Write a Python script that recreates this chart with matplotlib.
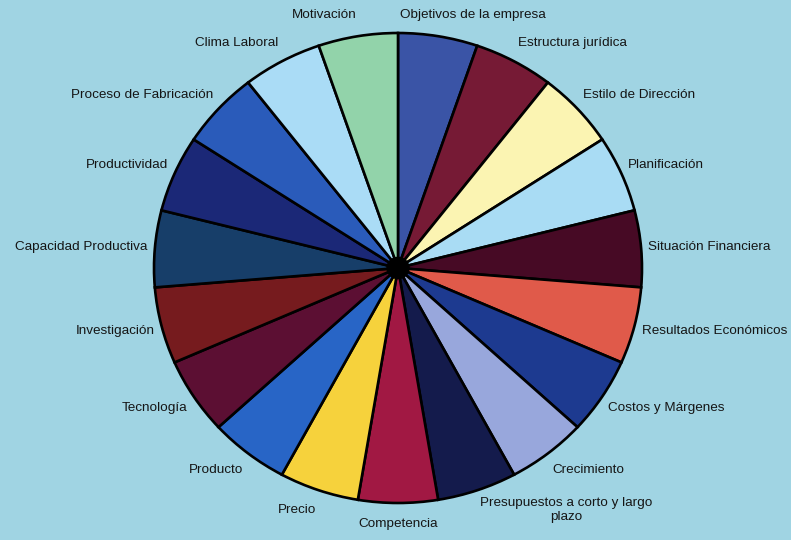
import matplotlib
matplotlib.use("Agg")
import matplotlib.pyplot as plt
from matplotlib.patches import Circle

# ── Data ──────────────────────────────────────────────────────────────
labels = [
    "Objetivos de la empresa", "Estructura jurídica", "Estilo de Dirección",
    "Planificación", "Situación Financiera", "Resultados Económicos",
    "Costos y Márgenes", "Crecimiento", "Presupuestos a corto y largo\nplazo",
    "Competencia", "Precio", "Producto", "Tecnología", "Investigación",
    "Capacidad Productiva", "Productividad", "Proceso de Fabricación",
    "Clima Laboral", "Motivación",
]
values = [1] * len(labels)   # all factors weigh the same
colors = [
    "#3a54a6", "#761a35", "#fbf4b2", "#a9dcf4", "#470a25",
    "#e05a4a", "#1d3a90", "#98a7dc", "#141b4c", "#a11843",
    "#f6d23c", "#2865c6", "#5c0f33", "#761b1e", "#173e69",
    "#1b2877", "#2a5bba", "#aadcf6", "#92d3aa",
]

BG = "#a0d4e3"

fig = plt.figure(figsize=(7.91, 5.40), dpi=100)
fig.patch.set_facecolor(BG)
ax = fig.add_axes([0, 0, 1, 1])
ax.set_facecolor(BG)

wedges, texts = ax.pie(
    values, labels=labels, colors=colors, startangle=90, counterclock=False,
    labeldistance=1.09,
    wedgeprops=dict(edgecolor="black", linewidth=1.9),
    textprops=dict(fontsize=9.7, family="Liberation Sans", color="#151515"),
)

# labels sit closer at the sides than above / below
for t in texts:
    t.set_multialignment("center")
    t.set_x(t.get_position()[0] * 0.945)
texts[0].set_x(0.01)                        # Objetivos starts at the top line
texts[9].set_horizontalalignment("center")  # Competencia centred below

ax.add_patch(Circle((0, 0), 0.045, color="black", zorder=5))

# slightly wider than tall, like the scanned original
ax.set_aspect("auto")
ax.set_xlim(-398 / 244, 393 / 244)
ax.set_ylim(-272 / 235, 268 / 235)
ax.axis("off")

plt.savefig("out.png", dpi=100, facecolor=BG)
